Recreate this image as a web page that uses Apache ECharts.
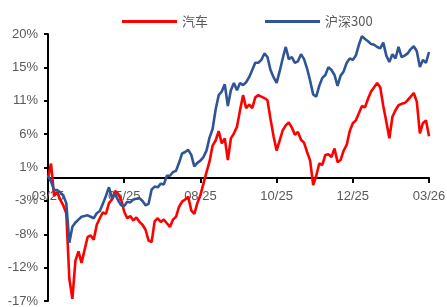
<!DOCTYPE html>
<html>
<head>
    <meta charset="UTF-8">
    <title>汽车 vs 沪深300</title>
    <script type="text/javascript" src="https://cdn.jsdelivr.net/npm/echarts@6/dist/echarts.min.js"></script>
    <style>
        html, body { margin: 0; padding: 0; background: #fff; }
    </style>
</head>
<body>
<div id="main" style="width: 447px;height:307px;"></div>
<script type="text/javascript">
    // 横轴刻度标签（每 25 个点一个）
    var xLabels = ['03/25', '05/25', '08/25', '10/25', '12/25', '03/26'];
    var labelStep = 25;

    // 纵轴刻度（百分比）
    var yTicks = [-17.1, -12.46, -7.83, -3.19, 1.45, 6.09, 10.73, 15.36, 20];

    // 汽车 区间涨跌幅 (%)
    var autoData = [
        0, 2.0, -2.5, -2.0, -3.0, -3.8, -4.9, -14.0, -16.8, -11.5,
        -10.2, -11.8, -10.0, -8.2, -8.0, -8.6, -6.5, -5.6, -4.8, -5.0,
        -3.5, -3.0, -1.8, -2.2, -3.0, -4.7, -5.6, -5.3, -5.9, -5.5,
        -6.1, -6.5, -7.2, -8.7, -8.9, -6.0, -5.6, -6.1, -5.8, -6.3,
        -6.8, -5.8, -5.4, -4.0, -3.3, -3.0, -2.6, -4.5, -5.0, -3.5,
        -2.4, -0.8, 0.8, 2.3, 4.5, 5.2, 6.5, 4.8, 5.5, 2.5,
        5.5, 6.2, 7.1, 9.4, 11.5, 9.7, 10.2, 9.7, 11.2, 11.5,
        11.3, 11.1, 10.8, 8.2, 5.8, 3.8, 5.2, 6.6, 7.3, 7.7,
        7.0, 6.0, 6.4, 5.3, 4.9, 3.6, 2.4, -1.0, 0.3, 2.0,
        1.8, 3.2, 3.3, 2.9, 4.1, 2.2, 2.5, 3.8, 4.6, 6.5,
        7.6, 8.0, 9.0, 10.0, 9.8, 11.0, 12.0, 12.6, 13.2, 12.6,
        10.0, 7.8, 5.5, 8.5, 9.4, 10.1, 10.3, 10.4, 10.8, 11.3,
        11.8, 10.6, 6.2, 7.6, 8.0, 5.8
    ];

    // 沪深300 区间涨跌幅 (%)
    var hs300Data = [
        0.3, -0.5, -1.7, -1.7, -2.0, -2.4, -3.5, -9.0, -6.8, -6.2,
        -5.8, -5.4, -5.3, -5.2, -5.4, -5.6, -4.9, -4.6, -3.6, -2.5,
        -1.3, -2.8, -2.2, -3.1, -3.8, -3.9, -3.3, -3.4, -3.0, -2.9,
        -2.8, -3.2, -3.8, -3.6, -1.6, -1.2, -1.3, -0.8, -0.9, 0.3,
        0.3, 0.8, 1.0, 2.1, 3.4, 3.6, 3.9, 3.2, 1.6, 2.1,
        2.4, 2.9, 3.8, 5.6, 6.8, 9.5, 11.5, 12.0, 13.0, 10.0,
        12.2, 13.2, 12.2, 13.2, 12.9, 13.3, 14.0, 15.0, 16.0, 16.0,
        16.4, 17.3, 16.8, 15.0, 14.0, 13.2, 14.8, 16.6, 18.2, 16.5,
        16.8, 16.0, 16.2, 17.2, 16.5, 15.2, 13.5, 11.6, 11.3, 12.8,
        13.9, 14.3, 15.4, 15.0, 14.3, 12.8, 14.2, 14.8, 16.0, 16.6,
        16.4, 17.0, 18.5, 19.7, 19.3, 19.0, 18.6, 18.5, 18.2, 18.0,
        18.8, 17.0, 16.1, 17.2, 16.6, 18.2, 16.8, 17.0, 17.3, 17.9,
        18.3, 17.6, 15.4, 16.4, 16.0, 17.5
    ];

    var categories = [];
    for (var i = 0; i < autoData.length; i++) {
        categories.push(i);
    }

    var myChart = echarts.init(document.getElementById('main'));

    var gridTop = 34, gridBottom = 6, chartH = 307;
    var yMin = yTicks[0], yMax = yTicks[yTicks.length - 1];
    // 横轴画在 0 处（用 offset 上移）
    var plotH = chartH - gridTop - gridBottom;
    var zeroOffset = -plotH * (0 - yMin) / (yMax - yMin);

    var labelFont = {
        color: '#595959',
        fontSize: 13,
        fontFamily: 'Liberation Sans, Arial, sans-serif'
    };

    var option = {
        animation: false,
        backgroundColor: '#fff',
        legend: {
            top: 10,
            left: 117,
            icon: 'rect',
            itemWidth: 55,
            itemHeight: 3,
            itemGap: 57,
            textStyle: {
                color: '#595959',
                fontSize: 13,
                fontFamily: 'Noto Sans CJK SC, Liberation Sans, sans-serif'
            },
            data: ['汽车', '沪深300']
        },
        grid: {
            left: 48,
            right: 18,
            top: gridTop,
            bottom: gridBottom,
            outerBoundsMode: 'none'
        },
        xAxis: {
            type: 'category',
            boundaryGap: false,
            data: categories,
            position: 'bottom',
            offset: zeroOffset,
            axisLine: {
                onZero: false,
                lineStyle: { color: '#000', width: 2 }
            },
            axisTick: {
                interval: labelStep - 1,
                length: 5,
                lineStyle: { color: '#000', width: 2 }
            },
            axisLabel: {
                interval: labelStep - 1,
                margin: 12,
                color: labelFont.color,
                fontSize: labelFont.fontSize,
                fontFamily: labelFont.fontFamily,
                formatter: function (v, idx) {
                    return idx % labelStep === 0 ? xLabels[idx / labelStep] : '';
                }
            },
            splitLine: { show: false }
        },
        yAxis: {
            type: 'value',
            min: yMin,
            max: yMax,
            axisLine: {
                show: true,
                lineStyle: { color: '#000', width: 2 }
            },
            axisTick: {
                show: true,
                length: 4,
                customValues: yTicks,
                lineStyle: { color: '#000', width: 2 }
            },
            axisLabel: {
                margin: 10,
                customValues: yTicks,
                color: labelFont.color,
                fontSize: labelFont.fontSize,
                fontFamily: labelFont.fontFamily,
                formatter: function (v) {
                    return Math.round(v) + '%';
                }
            },
            splitLine: { show: false }
        },
        series: [
            {
                name: '汽车',
                type: 'line',
                data: autoData,
                showSymbol: false,
                color: '#FF0000',
                lineStyle: { color: '#FF0000', width: 2.6 }
            },
            {
                name: '沪深300',
                type: 'line',
                data: hs300Data,
                showSymbol: false,
                color: '#2F5597',
                lineStyle: { color: '#2F5597', width: 2.6 }
            }
        ]
    };

    myChart.setOption(option);
</script>
</body>
</html>
